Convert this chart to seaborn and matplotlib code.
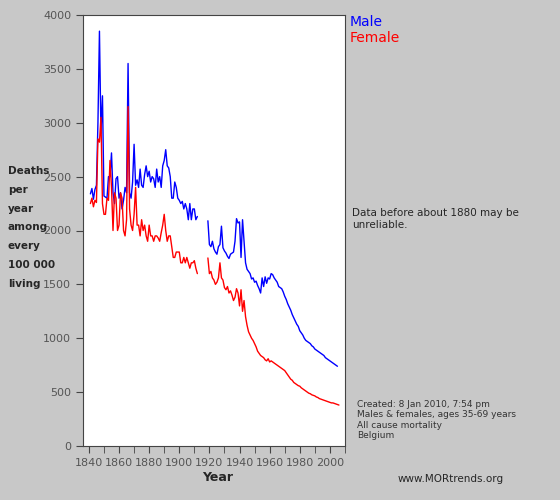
import matplotlib
matplotlib.use("Agg")
import matplotlib.pyplot as plt
import numpy as np
import pandas as pd
import seaborn as sns

# ── Data ──────────────────────────────────────────────────────────────────────
male_early = [2340, 2390, 2290, 2380, 2420, 3000, 3850, 2900, 3250, 2320, 2310, 2300,
              2500, 2500, 2720, 2350, 2250, 2480, 2500, 2300, 2350, 2200, 2280, 2400,
              2350, 3550, 2350, 2300, 2450, 2800, 2420, 2470, 2400, 2570, 2420, 2400,
              2520, 2600, 2500, 2550, 2450, 2500, 2480, 2400, 2570, 2450, 2500, 2400,
              2600, 2650, 2750, 2600, 2580, 2500, 2300, 2300, 2450, 2400, 2300, 2280,
              2250, 2270, 2200, 2250, 2200, 2100, 2250, 2100, 2200, 2200, 2100, 2130]
female_early = [2250, 2300, 2220, 2280, 2260, 2850, 2820, 3050, 2250, 2150, 2150, 2300,
                2280, 2650, 2400, 2000, 2350, 2300, 2000, 2050, 2350, 2300, 2000, 1950,
                2100, 3150, 2200, 2050, 2000, 2150, 2400, 2050, 2050, 1950, 2100, 2000,
                2050, 1950, 1900, 2050, 1950, 1950, 1900, 1950, 1950, 1930, 1900, 1980,
                2050, 2150, 2000, 1900, 1950, 1950, 1850, 1750, 1750, 1800, 1800, 1800,
                1700, 1700, 1750, 1700, 1750, 1700, 1650, 1700, 1700, 1720, 1650, 1600]
male_late = [2090, 1870, 1850, 1900, 1830, 1800, 1780, 1850, 1870, 2040, 1840, 1810,
             1790, 1760, 1740, 1780, 1790, 1800, 1900, 2110, 2070, 2080, 1750, 2100,
             1900, 1700, 1640, 1620, 1600, 1550, 1560, 1520, 1530, 1490, 1460, 1420,
             1560, 1480, 1570, 1510, 1560, 1550, 1600, 1590, 1560, 1540, 1520, 1480,
             1470, 1460, 1430, 1390, 1360, 1320, 1290, 1260, 1220, 1190, 1160, 1130,
             1110, 1070, 1050, 1030, 1000, 980, 970, 960, 950, 930, 920, 900,
             890, 880, 870, 860, 850, 840, 820, 810, 800, 790, 780, 770,
             760, 750, 740]
female_late = [1745, 1600, 1620, 1560, 1540, 1500, 1520, 1560, 1700, 1560, 1540, 1470,
               1450, 1480, 1420, 1440, 1400, 1350, 1380, 1460, 1420, 1300, 1450, 1250,
               1350, 1200, 1120, 1060, 1030, 1000, 980, 950, 920, 880, 860, 840,
               830, 820, 800, 790, 810, 780, 790, 780, 770, 760, 750, 740,
               730, 720, 710, 700, 680, 660, 640, 620, 610, 590, 580, 570,
               560, 555, 540, 530, 520, 510, 500, 490, 485, 475, 470, 465,
               455, 450, 440, 435, 430, 425, 420, 415, 410, 405, 400, 400,
               395, 390, 385, 380]

start_early, start_late = 1841, 1919


def series(values, start, sex, segment):
    return pd.DataFrame({"year": start + np.arange(len(values)), "rate": values,
                         "sex": sex, "segment": segment})


df = pd.concat([
    series(male_early, start_early, "Male", "a"),
    series(male_late, start_late, "Male", "b"),
    series(female_early, start_early, "Female", "a"),
    series(female_late, start_late, "Female", "b"),
])

# ── Figure ────────────────────────────────────────────────────────────────────
sns.set_style("ticks")
plt.rcParams["font.family"] = ["DejaVu Sans"]
bg = "#c8c8c8"
fig = plt.figure(figsize=(5.6, 5.0), dpi=100, facecolor=bg)
ax = fig.add_axes([0.148, 0.108, 0.468, 0.862])
ax.set_facecolor("white")

sns.lineplot(data=df, x="year", y="rate", hue="sex", units="segment",
             estimator=None, palette={"Male": "#0000ff", "Female": "#ff0000"},
             linewidth=1, legend=False, ax=ax)

ax.set_xlim(1836, 2010)
ax.set_ylim(0, 4000)
ax.set_xticks(range(1840, 2001, 20))
ax.set_xticks(range(1840, 2011, 10), minor=True)
ax.set_yticks(range(0, 4001, 500))
ax.tick_params(labelsize=8, labelcolor="#555555", color="#444444", length=5)
ax.tick_params(which="minor", length=5, color="#444444")
for s in ax.spines.values():
    s.set_color("#444444")
ax.set_xlabel("")
ax.set_ylabel("")

fig.text(0.014, 0.545, "Deaths\nper\nyear\namong\nevery\n100 000\nliving",
         ha="left", va="center", fontsize=7.5, fontweight="bold", linespacing=2.1)
fig.text(0.388, 0.045, "Year", ha="center", va="center", fontsize=9, fontweight="bold")
fig.text(0.625, 0.955, "Male", color="#0000ff", fontsize=10, va="center")
fig.text(0.625, 0.925, "Female", color="#ff0000", fontsize=10, va="center")
fig.text(0.628, 0.562, "Data before about 1880 may be\nunreliable.", fontsize=7.5, va="center")
fig.text(0.638, 0.16, "Created: 8 Jan 2010, 7:54 pm\nMales & females, ages 35-69 years\n"
         "All cause mortality\nBelgium", fontsize=6.5, color="#333333", va="center")
fig.text(0.71, 0.043, "www.MORtrends.org", fontsize=7.5, va="center")

fig.savefig("out.png", dpi=100, facecolor=bg)
